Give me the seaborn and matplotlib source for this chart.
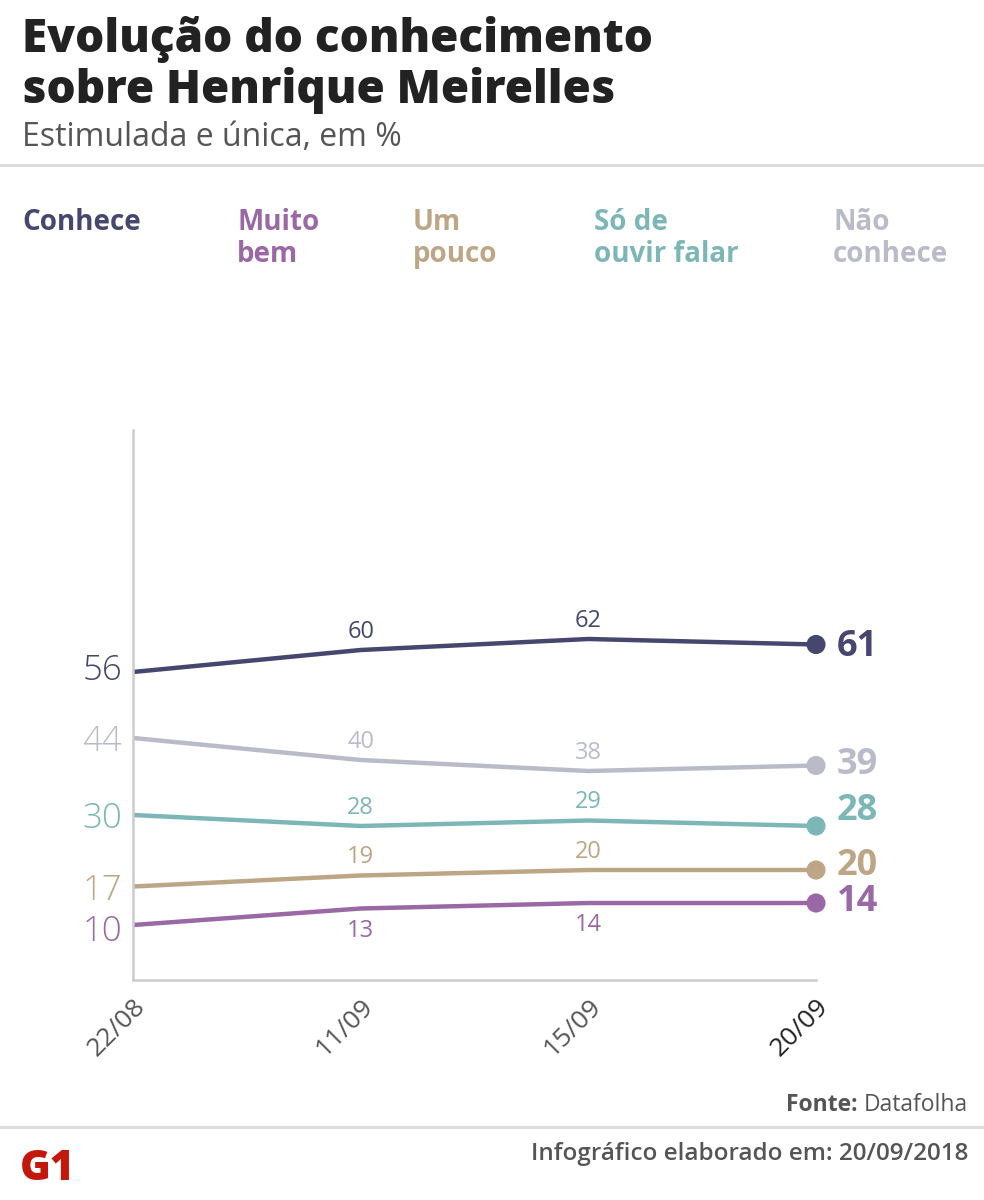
import pandas as pd
import matplotlib.pyplot as plt
import seaborn as sns
from matplotlib.lines import Line2D

# Dados (Datafolha)
datas = ["22/08", "11/09", "15/09", "20/09"]
series = ["Conhece", "Muito bem", "Um pouco", "Só de ouvir falar", "Não conhece"]
legenda = ["Conhece", "Muito\nbem", "Um\npouco", "Só de\nouvir falar", "Não\nconhece"]
conhece = [56, 60, 62, 61]
muito_bem = [10, 13, 14, 14]
um_pouco = [17, 19, 20, 20]
so_ouvir = [30, 28, 29, 28]
nao_conhece = [44, 40, 38, 39]

cores = ["#45476f", "#9a68a4", "#bda685", "#7cb6b6", "#b9bcc8"]

valores = [conhece, muito_bem, um_pouco, so_ouvir, nao_conhece]
rows = []
for nome, vals in zip(series, valores):
    for i, v in enumerate(vals):
        rows.append({"serie": nome, "idx": i, "data": datas[i], "valor": v})
df = pd.DataFrame(rows)

sns.set_theme(style="white")
plt.rcParams["font.family"] = ["Open Sans", "DejaVu Sans"]

fig = plt.figure(figsize=(9.84, 12), dpi=100)
ax = fig.add_axes([133 / 984, 1 - 980 / 1200, 683 / 984, 550 / 1200])

pal = dict(zip(series, cores))
sns.lineplot(data=df, x="idx", y="valor", hue="serie", palette=pal,
             linewidth=3.2, legend=False, ax=ax, sort=False)
ultimo = df[df["idx"] == len(datas) - 1]
sns.scatterplot(data=ultimo, x="idx", y="valor", hue="serie", palette=pal,
                s=190, edgecolor="none", legend=False, ax=ax, zorder=5,
                clip_on=False)

ax.set_xlim(0, len(datas) - 1)
ax.set_ylim(0, 100)
ax.set_yticks([])
ax.set_xticks(range(len(datas)))
ax.set_xticklabels(datas, rotation=45, ha="right", va="top",
                   rotation_mode="anchor", fontsize=19, color="#555555")
ax.get_xticklabels()[-1].set_color("#222222")
ax.tick_params(axis="x", length=0, pad=10)
ax.set_xlabel("")
ax.set_ylabel("")
for s in ["top", "right"]:
    ax.spines[s].set_visible(False)
for s in ["left", "bottom"]:
    ax.spines[s].set_color("#cccccc")
    ax.spines[s].set_linewidth(1.8)

# rótulos: início, meio, fim
desloc_ini = [1, -5, -3, -3, -3]
desloc_fim = [-2, 1, 3, 11, 0]
for k, (nome, vals) in enumerate(zip(series, valores)):
    c = cores[k]
    ax.annotate(str(vals[0]), (0, vals[0]), xytext=(-8, desloc_ini[k]),
                textcoords="offset points", ha="right", va="center",
                fontsize=25, fontweight="light", color=c)
    for i in range(1, len(vals) - 1):
        dy = -16 if nome == "Muito bem" else 13
        ax.annotate(str(vals[i]), (i, vals[i]), xytext=(0, dy),
                    textcoords="offset points", ha="center", va="center",
                    fontsize=17, color=c)
    ax.annotate(str(vals[-1]), (len(vals) - 1, vals[-1]),
                xytext=(15, desloc_fim[k]), textcoords="offset points",
                ha="left", va="center", fontsize=26, fontweight="bold", color=c)

# título e subtítulo
fig.text(22 / 984, 1 - 52 / 1200, "Evolução do conhecimento", fontsize=33,
         fontweight="heavy", color="#222222", va="baseline")
fig.text(22 / 984, 1 - 103 / 1200, "sobre Henrique Meirelles", fontsize=33,
         fontweight="heavy", color="#222222", va="baseline")
fig.text(22 / 984, 1 - 146 / 1200, "Estimulada e única, em %", fontsize=23,
         color="#555555", va="baseline")

fig.add_artist(Line2D([0, 1], [1 - 165 / 1200] * 2, color="#dddddd", lw=2.2))
fig.add_artist(Line2D([0, 1], [1 - 1127 / 1200] * 2, color="#dddddd", lw=2.2))

# legenda em texto, uma linha de cada vez
xs_leg = [22, 237, 413, 594, 833]
for x, txt, c in zip(xs_leg, legenda, cores):
    for j, linha in enumerate(txt.split("\n")):
        fig.text(x / 984, 1 - (230 + 32 * j) / 1200, linha, fontsize=20,
                 fontweight="bold", color=c, va="baseline")

# rodapé
fonte = fig.text(968 / 984, 1 - 1111 / 1200, "Datafolha", fontsize=16.5,
                 color="#555555", ha="right", va="baseline")
plt.annotate("Fonte: ", xy=(0, 0), xycoords=fonte, ha="right", va="bottom",
             fontsize=16.5, fontweight="bold", color="#555555",
             annotation_clip=False)
fig.text(968 / 984, 1 - 1160 / 1200, "Infográfico elaborado em: 20/09/2018",
         fontsize=17.5, fontweight="semibold", color="#555555", ha="right",
         va="baseline")
fig.text(20 / 984, 1 - 1180 / 1200, "G1", fontsize=30, fontweight="heavy",
         color="#c4170c", va="baseline")

fig.savefig("out.png", dpi=100)
